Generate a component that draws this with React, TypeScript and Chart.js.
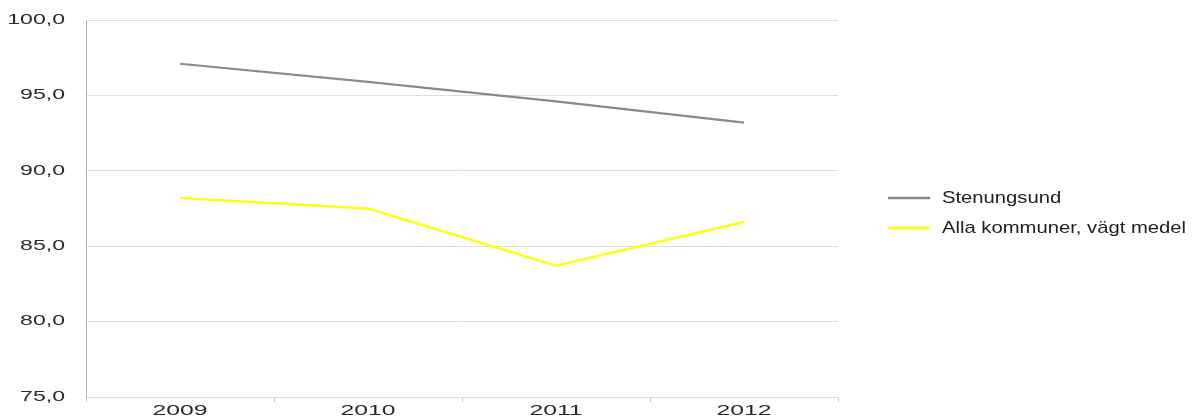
import React, { useEffect, useRef } from "react";
import { Chart, registerables } from "chart.js";

Chart.register(...registerables);

const years = ["2009", "2010", "2011", "2012"];
const stenungsund = [97.1, 95.9, 94.6, 93.2];
const allaKommuner = [88.2, 87.5, 83.7, 86.6];
const seriesNames = ["Stenungsund", "Alla kommuner, vägt medel"];

const FONT = "'Liberation Sans', Arial, sans-serif";
const AXIS_STRETCH = 1.65;
const LEGEND_STRETCH = 1.19;

// Draws text horizontally stretched, as in the reference picture.
const stretchPlugin = {
  id: "stretchText",
  beforeInit(chart: any) {
    const ctx = chart.ctx;
    if (ctx.__patched) return;
    ctx.__patched = true;
    ctx.__sx = AXIS_STRETCH;
    const origFill = ctx.fillText.bind(ctx);
    const origMeasure = ctx.measureText.bind(ctx);
    ctx.fillText = (text: string, x: number, y: number, maxWidth?: number) => {
      const sx = ctx.__sx || 1;
      ctx.save();
      ctx.translate(x, y);
      ctx.scale(sx, 1);
      if (maxWidth !== undefined) origFill(text, 0, 0, maxWidth / sx);
      else origFill(text, 0, 0);
      ctx.restore();
    };
    ctx.measureText = (text: string) => {
      const m = origMeasure(text);
      const sx = ctx.__sx || 1;
      return {
        width: m.width * sx,
        actualBoundingBoxAscent: m.actualBoundingBoxAscent,
        actualBoundingBoxDescent: m.actualBoundingBoxDescent,
        actualBoundingBoxLeft: m.actualBoundingBoxLeft * sx,
        actualBoundingBoxRight: m.actualBoundingBoxRight * sx,
        fontBoundingBoxAscent: m.fontBoundingBoxAscent,
        fontBoundingBoxDescent: m.fontBoundingBoxDescent,
      };
    };
  },
  beforeDraw(chart: any) {
    chart.ctx.__sx = AXIS_STRETCH;
  },
};

const legendPlugin = {
  id: "customLegend",
  afterDraw(chart: any) {
    const ctx = chart.ctx;
    const x0 = chart.chartArea.right + 50;
    const ys = [198, 228];
    ctx.save();
    ctx.__sx = LEGEND_STRETCH;
    chart.data.datasets.forEach((ds: any, i: number) => {
      const y = ys[i];
      ctx.strokeStyle = ds.borderColor;
      ctx.lineWidth = ds.borderWidth + 0.5;
      ctx.beginPath();
      ctx.moveTo(x0, y);
      ctx.lineTo(x0 + 42, y);
      ctx.stroke();
      ctx.fillStyle = "#222";
      ctx.font = "17px " + FONT;
      ctx.textBaseline = "middle";
      ctx.textAlign = "left";
      ctx.fillText(ds.label, x0 + 54, y);
    });
    ctx.__sx = AXIS_STRETCH;
    ctx.restore();
  },
};

export default function App() {
  const ref = useRef<HTMLCanvasElement>(null);
  useEffect(() => {
    if (!ref.current) return;
    const chart = new Chart(ref.current, {
      type: "line",
      data: {
        labels: years,
        datasets: [
          {
            label: seriesNames[0],
            data: stenungsund,
            borderColor: "#8a8a8a",
            borderWidth: 2.2,
            pointRadius: 0,
            tension: 0,
          },
          {
            label: seriesNames[1],
            data: allaKommuner,
            borderColor: "#ffff14",
            borderWidth: 2.5,
            pointRadius: 0,
            tension: 0,
          },
        ],
      },
      options: {
        animation: false,
        responsive: false,
        layout: { padding: { top: 20, right: 356, left: 0, bottom: 0 } },
        plugins: { legend: { display: false }, tooltip: { enabled: false } },
        scales: {
          x: {
            offset: true,
            grid: {
              display: true,
              offset: true,
              drawOnChartArea: false,
              drawTicks: true,
              tickLength: 5,
              color: "#c8c8c8",
            },
            border: { display: true, color: "#dcdccc", dash: [6, 3] },
            ticks: {
              color: "#2a2a2a",
              font: { family: FONT, size: 15 },
              padding: 0,
              maxRotation: 0,
            },
            afterFit(scale: any) {
              scale.height = 21;
            },
          },
          y: {
            min: 75,
            max: 100,
            ticks: {
              stepSize: 5,
              color: "#2a2a2a",
              padding: 0,
              font: { family: FONT, size: 14 },
              callback: (v: any) => Number(v).toFixed(1).replace(".", ","),
            },
            grid: {
              color: "#e2e0c6",
              drawTicks: true,
              tickLength: 21,
              tickColor: "rgba(0,0,0,0)",
            },
            border: { display: true, color: "#aab2c4", width: 1, dash: [] },
            afterFit(scale: any) {
              scale.width = 86;
            },
          },
        },
      },
      plugins: [
        stretchPlugin,
        legendPlugin,
        {
          id: "gridDash",
          beforeDraw(chart: any) {
            const g = chart.options.scales.y.grid;
            g.borderDash = [6, 3];
          },
        },
      ],
    });
    return () => chart.destroy();
  }, []);
  return (
    <div style={{ position: "fixed", left: 0, top: 0, width: 1194, height: 418, background: "#fff" }}>
      <canvas ref={ref} width={1194} height={418} />
    </div>
  );
}
